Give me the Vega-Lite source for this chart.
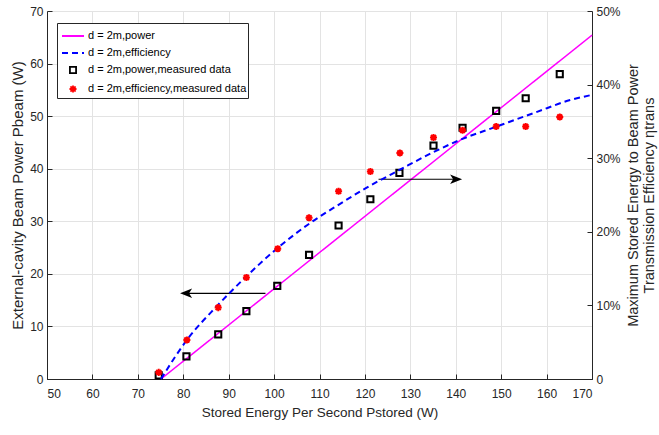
{
  "$schema": "https://vega.github.io/schema/vega-lite/v6.json",
  "width": 545,
  "height": 368,
  "autosize": {"type": "none"},
  "padding": {"left": 47, "top": 11, "right": 67, "bottom": 56},
  "background": "white",
  "config": {
    "font": "Liberation Sans",
    "view": {"stroke": null},
    "axis": {
      "labelFont": "Liberation Sans",
      "titleFont": "Liberation Sans",
      "labelFontSize": 12,
      "titleFontSize": 14.5,
      "titleFontWeight": "normal",
      "labelColor": "#262626",
      "titleColor": "#262626",
      "domainColor": "#262626",
      "domainWidth": 1,
      "tickColor": "#262626",
      "tickSize": -5,
      "tickWidth": 1,
      "labelPadding": 9,
      "gridColor": "#e3e3e3",
      "gridWidth": 1
    },
    "legend": {
      "labelFont": "Liberation Sans",
      "labelFontSize": 11,
      "labelColor": "#000000",
      "labelLimit": 400
    }
  },
  "datasets": {
    "powerLine": [
      {"x": 75.1, "y": 0, "series": "d = 2m,power"},
      {"x": 170, "y": 65.4, "series": "d = 2m,power"}
    ],
    "effLine": [
      {"x": 75.1, "y": 0.0, "series": "d = 2m,efficiency"},
      {"x": 80.8, "y": 0.053, "series": "d = 2m,efficiency"},
      {"x": 87.4, "y": 0.099, "series": "d = 2m,efficiency"},
      {"x": 94.0, "y": 0.140, "series": "d = 2m,efficiency"},
      {"x": 100.6, "y": 0.177, "series": "d = 2m,efficiency"},
      {"x": 107.5, "y": 0.210, "series": "d = 2m,efficiency"},
      {"x": 114.0, "y": 0.236, "series": "d = 2m,efficiency"},
      {"x": 120.4, "y": 0.260, "series": "d = 2m,efficiency"},
      {"x": 127.6, "y": 0.284, "series": "d = 2m,efficiency"},
      {"x": 135.0, "y": 0.308, "series": "d = 2m,efficiency"},
      {"x": 141.0, "y": 0.325, "series": "d = 2m,efficiency"},
      {"x": 149.0, "y": 0.343, "series": "d = 2m,efficiency"},
      {"x": 157.9, "y": 0.363, "series": "d = 2m,efficiency"},
      {"x": 165.2, "y": 0.379, "series": "d = 2m,efficiency"},
      {"x": 170.0, "y": 0.386, "series": "d = 2m,efficiency"}
    ],
    "powerPts": [
      {"x": 74.6, "y": 0.7, "series": "d = 2m,power,measured data"},
      {"x": 80.7, "y": 4.3, "series": "d = 2m,power,measured data"},
      {"x": 87.7, "y": 8.5, "series": "d = 2m,power,measured data"},
      {"x": 93.9, "y": 12.9, "series": "d = 2m,power,measured data"},
      {"x": 100.7, "y": 17.7, "series": "d = 2m,power,measured data"},
      {"x": 107.7, "y": 23.6, "series": "d = 2m,power,measured data"},
      {"x": 114.2, "y": 29.2, "series": "d = 2m,power,measured data"},
      {"x": 121.2, "y": 34.2, "series": "d = 2m,power,measured data"},
      {"x": 127.6, "y": 39.2, "series": "d = 2m,power,measured data"},
      {"x": 135.1, "y": 44.4, "series": "d = 2m,power,measured data"},
      {"x": 141.5, "y": 47.8, "series": "d = 2m,power,measured data"},
      {"x": 148.9, "y": 51.0, "series": "d = 2m,power,measured data"},
      {"x": 155.4, "y": 53.4, "series": "d = 2m,power,measured data"},
      {"x": 162.9, "y": 58.0, "series": "d = 2m,power,measured data"}
    ],
    "effPts": [
      {"x": 74.6, "y": 0.009, "series": "d = 2m,efficiency,measured data"},
      {"x": 80.8, "y": 0.053, "series": "d = 2m,efficiency,measured data"},
      {"x": 87.7, "y": 0.097, "series": "d = 2m,efficiency,measured data"},
      {"x": 93.9, "y": 0.138, "series": "d = 2m,efficiency,measured data"},
      {"x": 100.8, "y": 0.177, "series": "d = 2m,efficiency,measured data"},
      {"x": 107.7, "y": 0.219, "series": "d = 2m,efficiency,measured data"},
      {"x": 114.2, "y": 0.255, "series": "d = 2m,efficiency,measured data"},
      {"x": 121.2, "y": 0.282, "series": "d = 2m,efficiency,measured data"},
      {"x": 127.7, "y": 0.307, "series": "d = 2m,efficiency,measured data"},
      {"x": 135.1, "y": 0.328, "series": "d = 2m,efficiency,measured data"},
      {"x": 141.5, "y": 0.338, "series": "d = 2m,efficiency,measured data"},
      {"x": 148.9, "y": 0.343, "series": "d = 2m,efficiency,measured data"},
      {"x": 155.4, "y": 0.343, "series": "d = 2m,efficiency,measured data"},
      {"x": 162.9, "y": 0.356, "series": "d = 2m,efficiency,measured data"}
    ],
    "arrows": [
      {"x": 98.1, "x2": 80.8, "y": 16.3},
      {"x": 123.0, "x2": 139.8, "y": 38.0}
    ],
    "arrowL": [{"x": 79.3, "y": 16.3}],
    "arrowR": [{"x": 141.4, "y": 38.0}]
  },
  "encoding": {
    "x": {
      "field": "x",
      "type": "quantitative",
      "scale": {"domain": [50, 170], "nice": false},
      "axis": {
        "values": [50, 60, 70, 80, 90, 100, 110, 120, 130, 140, 150, 160, 170],
        "grid": true,
        "labelPadding": 14,
        "title": "Stored Energy Per Second Pstored  (W)",
        "titleFontSize": 13.5,
        "titlePadding": 6
      }
    }
  },
  "layer": [
    {
      "encoding": {
        "y": {
          "field": "y",
          "type": "quantitative",
          "scale": {"domain": [0, 70], "nice": false},
          "axis": {
            "orient": "left",
            "values": [0, 10, 20, 30, 40, 50, 60, 70],
            "grid": true,
            "title": "External-cavity Beam Power Pbeam  (W)",
            "titleFontSize": 15,
            "titlePadding": 4
          }
        }
      },
      "layer": [
        {
          "data": {"name": "powerLine"},
          "mark": {"type": "line", "strokeWidth": 1.5},
          "encoding": {
            "color": {
              "field": "series", "type": "nominal",
              "scale": {
                "domain": ["d = 2m,power", "d = 2m,efficiency", "d = 2m,power,measured data", "d = 2m,efficiency,measured data"],
                "range": ["#ff00ff", "#0000ff", "#000000", "#ff0000"]
              },
              "legend": {"title": null, "orient": "none", "legendX": 10, "legendY": 12, "strokeColor": "#262626", "fillColor": "white", "padding": 1, "symbolOffset": 3, "symbolSize": 484, "symbolStrokeWidth": 1.8, "rowPadding": -4, "labelOffset": 3}
            },
            "strokeDash": {
              "field": "series", "type": "nominal",
              "scale": {
                "domain": ["d = 2m,power", "d = 2m,efficiency", "d = 2m,power,measured data", "d = 2m,efficiency,measured data"],
                "range": [[1, 0], [6, 4], [1, 0], [1, 0]]
              },
              "legend": {"title": null, "orient": "none", "legendX": 10, "legendY": 12, "strokeColor": "#262626", "fillColor": "white", "padding": 1, "symbolOffset": 3, "symbolSize": 484, "symbolStrokeWidth": 1.8, "rowPadding": -4, "labelOffset": 3}
            }
          }
        },
        {
          "data": {"name": "powerPts"},
          "mark": {"type": "point", "filled": false, "size": 484, "strokeWidth": 2, "opacity": 1},
          "encoding": {
            "color": {"field": "series", "type": "nominal"},
            "shape": {
              "field": "series", "type": "nominal",
              "scale": {
                "domain": ["d = 2m,power", "d = 2m,efficiency", "d = 2m,power,measured data", "d = 2m,efficiency,measured data"],
                "range": ["stroke", "stroke", "M-0.28,-0.28L0.28,-0.28L0.28,0.28L-0.28,0.28Z", "M-0.32,0L0.32,0M0,-0.32L0,0.32M-0.23,-0.23L0.23,0.23M-0.23,0.23L0.23,-0.23"]
              },
              "legend": {"title": null, "orient": "none", "legendX": 10, "legendY": 12, "strokeColor": "#262626", "fillColor": "white", "padding": 1, "symbolOffset": 3, "symbolSize": 484, "symbolStrokeWidth": 1.8, "rowPadding": -4, "labelOffset": 3}
            }
          }
        },
        {
          "data": {"name": "arrows"},
          "mark": {"type": "rule", "color": "#000000", "strokeWidth": 1.2},
          "encoding": {"x2": {"field": "x2"}}
        },
        {
          "data": {"name": "arrowL"},
          "mark": {"type": "point", "shape": "M0,0L2,-0.8L1.5,0L2,0.8Z", "size": 144, "filled": true, "color": "#000000", "opacity": 1},
          "encoding": {}
        },
        {
          "data": {"name": "arrowR"},
          "mark": {"type": "point", "shape": "M0,0L-2,-0.8L-1.5,0L-2,0.8Z", "size": 144, "filled": true, "color": "#000000", "opacity": 1},
          "encoding": {}
        }
      ]
    },
    {
      "encoding": {
        "y": {
          "field": "y",
          "type": "quantitative",
          "scale": {"domain": [0, 0.5], "nice": false},
          "axis": {
            "orient": "right",
            "values": [0, 0.1, 0.2, 0.3, 0.4, 0.5],
            "labelExpr": "datum.value == 0 ? '0' : format(datum.value, '.0%')",
            "grid": false,
            "title": ["Maximum Stored Energy to Beam Power", "Transmission Efficiency  ηtrans"],
            "titleAngle": 270,
            "titleFontSize": 14.5,
            "titleLineHeight": 16,
            "titlePadding": 4
          }
        }
      },
      "layer": [
        {
          "data": {"name": "effLine"},
          "mark": {"type": "line", "strokeWidth": 2, "interpolate": "monotone"},
          "encoding": {
            "color": {"field": "series", "type": "nominal"},
            "strokeDash": {"field": "series", "type": "nominal"}
          }
        },
        {
          "data": {"name": "effPts"},
          "mark": {"type": "point", "filled": false, "size": 484, "strokeWidth": 2, "opacity": 1},
          "encoding": {
            "color": {"field": "series", "type": "nominal"},
            "shape": {"field": "series", "type": "nominal"}
          }
        }
      ]
    }
  ],
  "resolve": {"scale": {"y": "independent"}}
}
